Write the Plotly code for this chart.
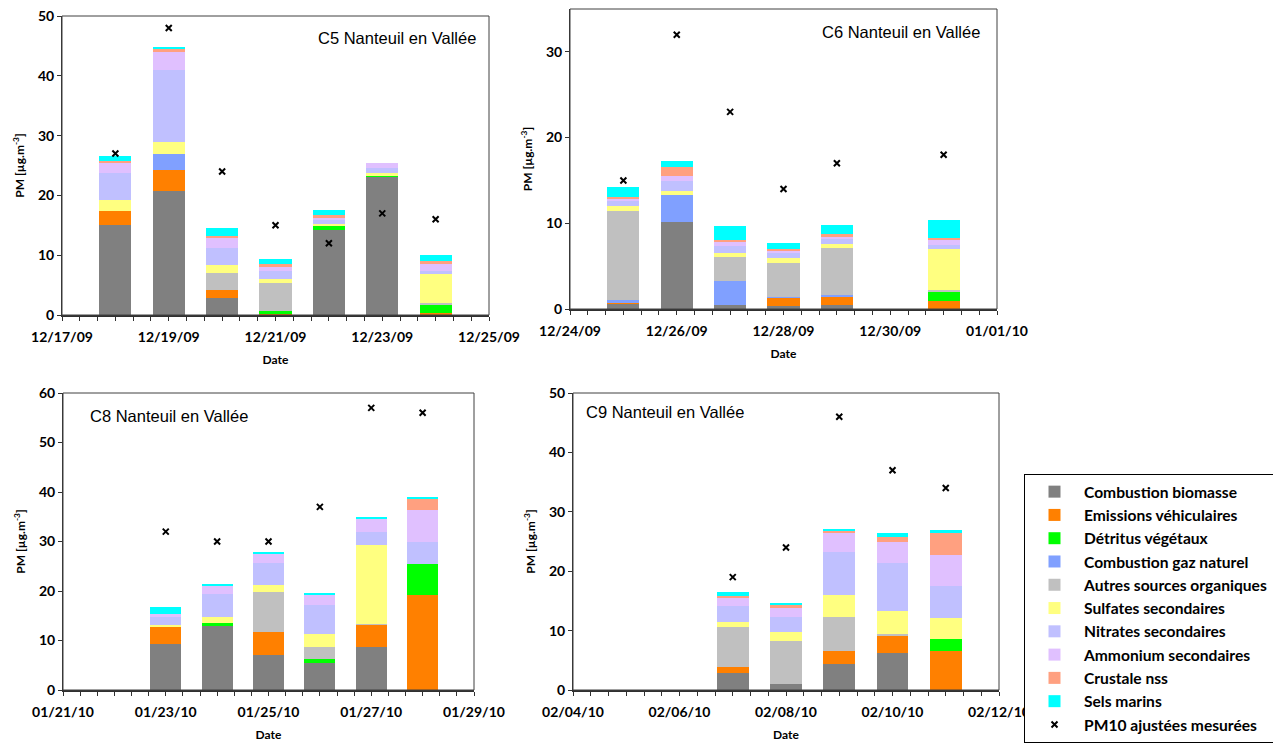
import plotly.graph_objects as go

# ---------------- data ----------------
components = ["Combustion biomasse", "Emissions véhiculaires", "Détritus végétaux",
              "Combustion gaz naturel", "Autres sources organiques", "Sulfates secondaires",
              "Nitrates secondaires", "Ammonium secondaires", "Crustale nss", "Sels marins"]
pm10_name = "PM10 ajustées mesurées"

# C5
c5_dates = ["2009-12-18", "2009-12-19", "2009-12-20", "2009-12-21", "2009-12-22", "2009-12-23", "2009-12-24"]
c5_biomasse = [15.0, 20.7, 2.9, 0, 14.2, 23.1, 0]
c5_vehic = [2.45, 3.6, 1.3, 0.1, 0, 0, 0.4]
c5_detritus = [0, 0, 0, 0.5, 0.7, 0.3, 1.4]
c5_gaz = [0, 2.6, 0, 0, 0, 0, 0]
c5_autres = [0, 0, 2.8, 4.7, 0, 0, 0.2]
c5_sulfates = [1.75, 2.1, 1.3, 0.8, 0.4, 0.3, 4.9]
c5_nitrates = [4.6, 11.9, 2.9, 1.3, 0.7, 0.9, 0.5]
c5_ammonium = [1.7, 3.1, 1.6, 0.6, 0.3, 0.8, 1.1]
c5_crustale = [0.3, 0.4, 0.4, 0.5, 0.4, 0, 0.6]
c5_sels = [0.8, 0.4, 1.3, 0.8, 0.8, 0, 0.9]
c5_pm10 = [27, 48, 24, 15, 12, 17, 16]

# C6
c6_dates = ["2009-12-25", "2009-12-26", "2009-12-27", "2009-12-28", "2009-12-29", "2009-12-30", "2009-12-31"]
c6_biomasse = [0.6, 10.1, 0.5, 0.35, 0.45, 0, 0]
c6_vehic = [0.15, 0, 0, 0.95, 1.0, 0, 0.9]
c6_detritus = [0, 0, 0, 0, 0, 0, 1.05]
c6_gaz = [0.35, 3.15, 2.8, 0.1, 0.15, 0, 0]
c6_autres = [10.3, 0, 2.8, 4.0, 5.5, 0, 0.25]
c6_sulfates = [0.6, 0.5, 0.4, 0.5, 0.45, 0, 4.85]
c6_nitrates = [0.6, 1.15, 0.8, 0.6, 0.6, 0, 0.45]
c6_ammonium = [0.3, 0.6, 0.5, 0.3, 0.25, 0, 0.6]
c6_crustale = [0.2, 1.1, 0.3, 0.2, 0.4, 0, 0.2]
c6_sels = [1.1, 0.7, 1.6, 0.7, 1.0, 0, 2.1]
c6_pm10 = [15, 32, 23, 14, 17, None, 18]

# C8
c8_dates = ["2010-01-23", "2010-01-24", "2010-01-25", "2010-01-26", "2010-01-27", "2010-01-28"]
c8_biomasse = [9.3, 13.0, 7.1, 5.45, 8.7, 0]
c8_vehic = [3.45, 0, 4.7, 0, 4.5, 19.2]
c8_detritus = [0, 0.6, 0, 0.85, 0, 6.35]
c8_gaz = [0, 0, 0, 0, 0, 0]
c8_autres = [0, 0, 7.95, 2.4, 0.2, 0]
c8_sulfates = [0.4, 1.2, 1.5, 2.6, 15.9, 0]
c8_nitrates = [1.65, 4.6, 4.5, 5.8, 2.7, 4.4]
c8_ammonium = [0.65, 1.7, 1.65, 2.1, 2.65, 6.35]
c8_crustale = [0, 0, 0, 0, 0, 2.4]
c8_sels = [1.25, 0.3, 0.5, 0.2, 0.2, 0.2]
c8_pm10 = [32, 30, 30, 37, 57, 56]

# C9
c9_dates = ["2010-02-07", "2010-02-08", "2010-02-09", "2010-02-10", "2010-02-11"]
c9_biomasse = [2.85, 1.0, 4.45, 6.25, 0]
c9_vehic = [1.05, 0, 2.1, 2.85, 6.55]
c9_detritus = [0, 0, 0, 0, 2.05]
c9_gaz = [0, 0, 0, 0, 0]
c9_autres = [6.7, 7.25, 5.75, 0.35, 0]
c9_sulfates = [0.85, 1.55, 3.7, 3.85, 3.6]
c9_nitrates = [2.7, 2.5, 7.15, 8.1, 5.3]
c9_ammonium = [1.3, 1.5, 3.3, 3.6, 5.3]
c9_crustale = [0.45, 0.45, 0.35, 0.8, 3.55]
c9_sels = [0.6, 0.4, 0.2, 0.6, 0.6]
c9_pm10 = [19, 24, 46, 37, 34]

panel_titles = ["C5 Nanteuil en Vallée", "C6 Nanteuil en Vallée", "C8 Nanteuil en Vallée", "C9 Nanteuil en Vallée"]
x_ranges = [["2009-12-17", "2009-12-25"], ["2009-12-24", "2010-01-01"],
            ["2010-01-21", "2010-01-29"], ["2010-02-04", "2010-02-12"]]
y_maxes = [50, 35, 60, 50]

# ---------------- styles ----------------
colors = ["#808080", "#FF8000", "#00FF00", "#80A0FF", "#C0C0C0",
          "#FFFF80", "#C0C0FF", "#E0C0FF", "#FFA080", "#00FFFF"]

W, H = 1281, 744
OFF = 8  # page body margin; positions below are page pixels


def px_x(v):
    return (v - OFF) / W


def px_y(v):
    return 1 - (v - OFF) / H


# plot-area page-pixel boxes: (left, right, top, bottom)
boxes = [(62, 489, 16, 315), (570, 997, 9, 309), (63, 474, 393, 690), (573, 999, 393, 690)]

panels = [
    (c5_dates, [c5_biomasse, c5_vehic, c5_detritus, c5_gaz, c5_autres, c5_sulfates, c5_nitrates, c5_ammonium, c5_crustale, c5_sels], c5_pm10),
    (c6_dates, [c6_biomasse, c6_vehic, c6_detritus, c6_gaz, c6_autres, c6_sulfates, c6_nitrates, c6_ammonium, c6_crustale, c6_sels], c6_pm10),
    (c8_dates, [c8_biomasse, c8_vehic, c8_detritus, c8_gaz, c8_autres, c8_sulfates, c8_nitrates, c8_ammonium, c8_crustale, c8_sels], c8_pm10),
    (c9_dates, [c9_biomasse, c9_vehic, c9_detritus, c9_gaz, c9_autres, c9_sulfates, c9_nitrates, c9_ammonium, c9_crustale, c9_sels], c9_pm10),
]

DAY = 86400000
FONT = "Lato"
AXC = "#303030"

fig = go.Figure()
for p, (dates, series, pm) in enumerate(panels):
    xa = "x" if p == 0 else f"x{p+1}"
    ya = "y" if p == 0 else f"y{p+1}"
    for k, (name, vals) in enumerate(zip(components, series)):
        fig.add_trace(go.Bar(
            x=dates, y=vals, name=name, xaxis=xa, yaxis=ya,
            width=0.6 * DAY, marker=dict(color=colors[k], line=dict(width=0)),
            legendgroup=name, showlegend=(p == 0)))
    fig.add_trace(go.Scatter(
        x=dates, y=pm, name=pm10_name, xaxis=xa, yaxis=ya, mode="markers",
        marker=dict(symbol="x-thin", size=6, color="black", line=dict(width=2, color="black")),
        legendgroup=pm10_name, showlegend=(p == 0)))

layout = dict(
    width=W, height=H, margin=dict(l=0, r=0, t=0, b=0, autoexpand=False),
    paper_bgcolor="white", plot_bgcolor="white", barmode="stack", bargap=0,
    font=dict(family=FONT, color="black"),
    legend=dict(x=px_x(1024), y=px_y(474), xanchor="left", yanchor="top",
                bordercolor="black", borderwidth=1, bgcolor="white",
                font=dict(family=FONT, size=15.6, weight="bold"), itemwidth=49,
                traceorder="normal", tracegroupgap=0),
    annotations=[],
    shapes=[],
)

for p in range(4):
    l, r, t, b = boxes[p]
    xk = "xaxis" if p == 0 else f"xaxis{p+1}"
    yk = "yaxis" if p == 0 else f"yaxis{p+1}"
    ya = "y" if p == 0 else f"y{p+1}"
    xa = "x" if p == 0 else f"x{p+1}"
    layout[xk] = dict(
        domain=[px_x(l), px_x(r)], anchor=ya, type="date", range=x_ranges[p], automargin=False,
        tick0=x_ranges[p][0], dtick=2 * DAY, tickformat="%m/%d/%y",
        ticks="outside", ticklen=4, tickcolor=AXC, ticklabelstandoff=4,
        minor=dict(dtick=DAY / 3, ticks="outside", ticklen=4, tickcolor=AXC),
        showline=True, linecolor=AXC, linewidth=2, mirror=False,
        showgrid=False, zeroline=False, ticklabeloverflow="allow",
        tickfont=dict(family=FONT, size=14, weight="bold"),
        title=dict(text="Date", font=dict(family=FONT, size=12, weight="bold"), standoff=12),
    )
    layout[yk] = dict(
        domain=[px_y(b), px_y(t)], anchor=xa, range=[0, y_maxes[p]], dtick=10, automargin=False,
        ticks="outside", ticklen=4, tickcolor=AXC,
        showline=True, linecolor=AXC, linewidth=1, mirror=False,
        showgrid=False, zeroline=False, ticklabeloverflow="allow",
        tickfont=dict(family=FONT, size=14, weight="bold"),
        title=dict(text="PM [µg.m<sup>-3</sup>]", font=dict(family=FONT, size=12, weight="bold"), standoff=10),
    )
    # thin frame around the plot area
    layout["shapes"].append(dict(
        type="rect", xref=f"{xa} domain", yref=f"{ya} domain", x0=0, x1=1, y0=0, y1=1,
        line=dict(color="#404040", width=1), layer="above"))

# panel labels (page pixels)
label_pos = [(478, 38, "right"), (982, 32, "right"), (88, 416, "left"), (584, 412, "left")]
for p, (px, py, anc) in enumerate(label_pos):
    layout["annotations"].append(dict(
        x=px_x(px), y=px_y(py), xref="paper", yref="paper", text=panel_titles[p],
        showarrow=False, xanchor=anc, yanchor="middle",
        font=dict(family="Liberation Sans", size=16.5, color="black")))

fig.update_layout(**layout)
fig.write_html("out.html")
